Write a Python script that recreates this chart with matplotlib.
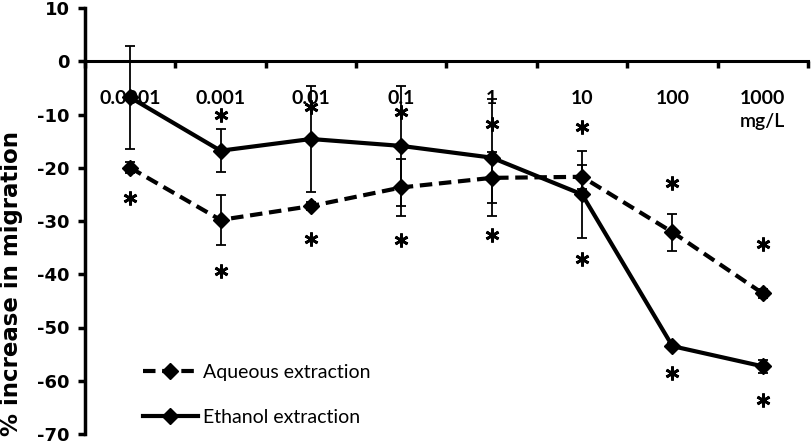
import numpy as np
import matplotlib
matplotlib.use("Agg")
import matplotlib.pyplot as plt
from matplotlib.ticker import FixedLocator, NullFormatter
from matplotlib.lines import Line2D

categories = ["0.0001", "0.001", "0.01", "0.1", "1", "10", "100", "1000"]
aqueous = [-20.0, -29.8, -27.2, -23.7, -21.9, -21.7, -32.1, -43.6]
aqueous_err = [1.0, 4.7, 0.8, 5.3, 4.8, 2.2, 3.5, 0.8]
ethanol = [-6.8, -16.8, -14.6, -15.9, -18.1, -25.0, -53.5, -57.3]
ethanol_err = [9.7, 4.0, 10.0, 11.2, 11.0, 8.2, 0.6, 1.2]
stars_upper = [np.nan, -10.0, -8.5, -9.5, -11.7, -12.4, -22.8, -34.4]
stars_lower = [-25.6, -39.4, -33.3, -33.5, -32.6, -37.2, -58.5, -63.7]
yticks = [10, 0, -10, -20, -30, -40, -50, -60, -70]

W, H = 812, 445
fig = plt.figure(figsize=(W / 100, H / 100), dpi=100)
ax_top, ax_bot = 8, 434
ax = fig.add_axes([85 / W, (H - ax_bot) / H, 723 / W, (ax_bot - ax_top) / H])

x = np.arange(len(categories))
dash = (0, (3, 1.6))

ax.errorbar(x, aqueous, yerr=aqueous_err, color="black", lw=3, ls=dash,
            marker="D", ms=8, ecolor="black", elinewidth=1.3, capsize=3.5,
            capthick=1.3, zorder=3)
ax.errorbar(x, ethanol, yerr=ethanol_err, color="black", lw=3, ls="-",
            marker="D", ms=8, ecolor="black", elinewidth=1.3, capsize=3.5,
            capthick=1.3, zorder=4)

ax.plot(x, stars_upper, ls="none", marker=(6, 2, 0), ms=10, mew=2.0, color="black", zorder=5)
ax.plot(x, stars_lower, ls="none", marker=(6, 2, 0), ms=10, mew=2.0, color="black", zorder=5)

ax.set_xlim(-0.5, len(categories) - 0.5)
ax.set_ylim(-70, 10)

for s in ["top", "right"]:
    ax.spines[s].set_visible(False)
ax.spines["bottom"].set_position(("data", 0))
ax.spines["bottom"].set_linewidth(2.2)
ax.spines["left"].set_linewidth(2.5)

ax.set_yticks(yticks)
ax.set_yticklabels([str(v) for v in yticks], fontfamily="DejaVu Sans",
                   fontweight="bold", fontsize=13)
ax.tick_params(axis="y", direction="out", length=5, width=2.5, pad=6)

ax.xaxis.set_major_locator(FixedLocator(x))
ax.set_xticklabels(categories, fontfamily="Lato", fontweight="bold", fontsize=14)
ax.tick_params(axis="x", which="major", length=0, pad=21)
ax.xaxis.set_minor_locator(FixedLocator(np.arange(len(categories) + 1) - 0.5))
ax.xaxis.set_minor_formatter(NullFormatter())
ax.tick_params(axis="x", which="minor", direction="out", length=5, width=2.5)
for lbl in ax.get_xticklabels():
    lbl.set_zorder(1)

ax.text(x[-1], -11.3, "mg/L", ha="center", va="center", fontfamily="Lato",
        fontweight="semibold", fontsize=14)

fig.text(12 / W, 1 - 284 / H, "% increase in migration", rotation=90,
         ha="center", va="center", fontfamily="DejaVu Sans", fontweight="bold",
         fontsize=16.5)

handles = [
    Line2D([], [], color="black", lw=3, ls=dash, marker="D", ms=8),
    Line2D([], [], color="black", lw=3, ls="-", marker="D", ms=8),
]
leg = ax.legend(handles, ["Aqueous extraction", "Ethanol extraction"],
                loc="upper left", bbox_to_anchor=(44 / 723, (ax_bot - 350) / (ax_bot - ax_top)),
                frameon=False, handlelength=2.85, handletextpad=0.25,
                labelspacing=1.45, borderpad=0.2, prop={"family": "Lato", "size": 14})

fig.savefig("out.png", dpi=100)
